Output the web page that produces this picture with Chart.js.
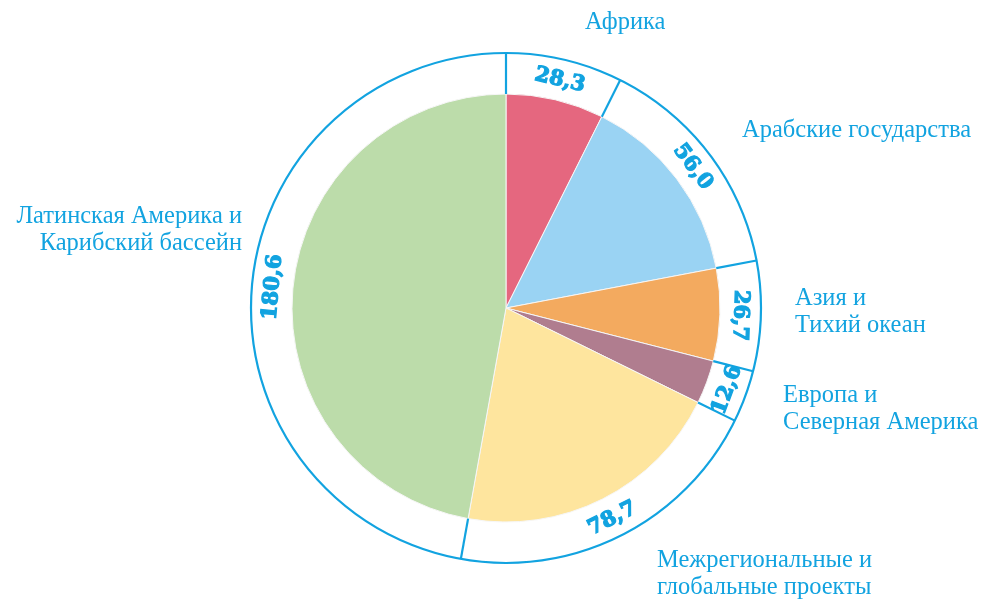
<!DOCTYPE html>
<html>
<head>
<meta charset="utf-8">
<script src="https://cdn.jsdelivr.net/npm/chart.js@4.4.0/dist/chart.umd.min.js"></script>
<style>
  html, body { margin: 0; padding: 0; background: #fff; }
  #wrap { width: 983px; height: 599px; }
</style>
</head>
<body>
<div id="wrap"><canvas id="pie_chart" width="983" height="599"></canvas></div>
<script>
var regions = [
    ["Африка"],
    ["Арабские государства"],
    ["Азия и", "Тихий океан"],
    ["Европа и", "Северная Америка"],
    ["Межрегиональные и", "глобальные проекты"],
    ["Латинская Америка и", "Карибский бассейн"]
];
var amounts = [28.3, 56.0, 26.7, 12.6, 78.7, 180.6];
var amountLabels = ["28,3", "56,0", "26,7", "12,6", "78,7", "180,6"];

var colors = ['#e5677f', '#9ad3f3', '#f3aa5f', '#b07d8f', '#fee59e', '#bcdcaa'];
var blue = '#12a3e0';

// where the region names sit, relative to the pie centre
var nameSpots = [
    { dx: 79, dy: -285, align: 'left' },
    { dx: 236, dy: -177, align: 'left' },
    { dx: 289, dy: -9, align: 'left' },
    { dx: 277, dy: 88, align: 'left' },
    { dx: 151, dy: 253, align: 'left' },
    { dx: -264, dy: -91, align: 'right' }
];

var ringPlugin = {
    id: 'ringPlugin',
    afterDatasetsDraw: function (chart) {
        var ctx = chart.ctx;
        var ring = chart.getDatasetMeta(0).data;
        var a0 = ring[0];
        var cx = a0.x, cy = a0.y;
        var rIn = a0.innerRadius, rOut = a0.outerRadius;

        ctx.save();
        ctx.strokeStyle = blue;
        ctx.lineWidth = 2.2;
        ctx.beginPath();
        ctx.arc(cx, cy, rOut - 1, 0, Math.PI * 2);
        ctx.stroke();

        ring.forEach(function (arc) {
            var a = arc.startAngle;
            ctx.beginPath();
            ctx.moveTo(cx + Math.cos(a) * rIn, cy + Math.sin(a) * rIn);
            ctx.lineTo(cx + Math.cos(a) * (rOut - 1), cy + Math.sin(a) * (rOut - 1));
            ctx.stroke();
        });

        // values inside the ring
        ctx.fillStyle = blue;
        ctx.lineWidth = 1.2;
        ctx.font = 'bold 21px "DejaVu Serif"';
        ctx.textAlign = 'center';
        ctx.textBaseline = 'middle';
        var rMid = (rIn + rOut) / 2;
        ring.forEach(function (arc, i) {
            var mid = (arc.startAngle + arc.endAngle) / 2;
            var deg = (mid + Math.PI / 2) * 180 / Math.PI;
            var rot = mid + Math.PI / 2;
            if (deg > 100 && deg < 260) rot -= Math.PI;
            ctx.save();
            ctx.translate(cx + Math.cos(mid) * rMid, cy + Math.sin(mid) * rMid);
            ctx.rotate(rot);
            ctx.fillText(amountLabels[i], 0, 1);
            ctx.strokeText(amountLabels[i], 0, 1);
            ctx.restore();
        });

        // region names
        ctx.font = '24.5px "Liberation Serif"';
        ctx.textBaseline = 'middle';
        regions.forEach(function (lines, i) {
            var s = nameSpots[i];
            ctx.textAlign = s.align;
            lines.forEach(function (t, j) {
                ctx.fillText(t, cx + s.dx, cy + s.dy + j * 27);
            });
        });
        ctx.restore();
    }
};

new Chart(document.getElementById("pie_chart").getContext("2d"), {
    type: 'doughnut',
    data: {
        labels: regions.map(function (r) { return r.join(' '); }),
        datasets: [{
            data: amounts,
            backgroundColor: '#ffffff',
            borderWidth: 0,
            weight: 42,
            order: 1
        }, {
            data: amounts,
            backgroundColor: colors,
            borderColor: '#f6f6f6',
            borderWidth: 1,
            weight: 214,
            order: 0
        }]
    },
    options: {
        responsive: false,
        animation: false,
        events: [],
        cutout: 0,
        layout: { padding: { left: 250, right: 221, top: 52, bottom: 35 } },
        plugins: {
            legend: { display: false },
            tooltip: { enabled: false }
        }
    },
    plugins: [ringPlugin]
});
</script>
</body>
</html>
